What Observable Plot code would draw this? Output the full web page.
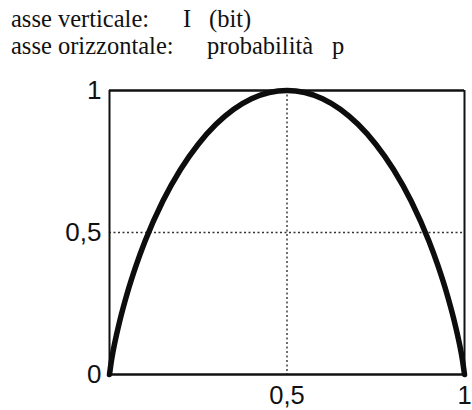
<!DOCTYPE html>
<html>
<head>
<meta charset="utf-8">
<script src="https://cdn.jsdelivr.net/npm/d3@7"></script>
<script src="https://cdn.jsdelivr.net/npm/@observablehq/plot@0.6"></script>
<style>
  html, body { margin: 0; padding: 0; background: #fff; }
  #wrap { width: 472px; height: 410px; overflow: hidden; }
  #head { position: relative; width: 472px; height: 62px; font-family: "Liberation Serif", "DejaVu Serif", serif; font-size: 24.5px; line-height: 24px; color: #111; }
  #head span { position: absolute; white-space: nowrap; }
  svg { display: block; }
</style>
</head>
<body>
<div id="wrap">
  <div id="head">
    <span style="left:11px; top:7px">asse verticale:</span>
    <span style="left:183px; top:7px">I</span>
    <span style="left:209px; top:7px">(bit)</span>
    <span style="left:11px; top:34px">asse orizzontale:</span>
    <span style="left:207px; top:34px">probabilità</span>
    <span style="left:332px; top:34px">p</span>
  </div>
  <div id="chart"></div>
</div>
<script>
// probability p (horizontal) and information I in bit (vertical)
const pValues = [0, 0.005, 0.01, 0.02, 0.03, 0.05, 0.075, 0.1, 0.15, 0.2, 0.25, 0.3, 0.35, 0.4, 0.45, 0.5,
                 0.55, 0.6, 0.65, 0.7, 0.75, 0.8, 0.85, 0.9, 0.925, 0.95, 0.97, 0.98, 0.99, 0.995, 1];
const iValues = [0, 0.045, 0.081, 0.141, 0.194, 0.286, 0.384, 0.469, 0.610, 0.722, 0.811, 0.881, 0.934, 0.971, 0.993, 1.0,
                 0.993, 0.971, 0.934, 0.881, 0.811, 0.722, 0.610, 0.469, 0.384, 0.286, 0.194, 0.141, 0.081, 0.045, 0];
const yTicks = [0, 0.5, 1];
const xTicks = [0.5, 1];
const tickLabels = {0: "0", 0.5: "0,5", 1: "1"};
const guideP = [0.5];
const guideI = [0.5];

const curve = pValues.map((p, i) => ({p, I: iValues[i]}));

const chart = Plot.plot({
  width: 472,
  height: 348,
  marginTop: 28,
  marginBottom: 36,
  marginLeft: 109,
  marginRight: 8,
  style: {background: "#fff", fontFamily: "'Liberation Sans', Arial, sans-serif", color: "#111"},
  x: {domain: [0, 1]},
  y: {domain: [0, 1]},
  marks: [
    Plot.ruleY(guideI, {stroke: "#333", strokeWidth: 1.4, strokeDasharray: "2,2.5"}),
    Plot.ruleX(guideP, {stroke: "#333", strokeWidth: 1.4, strokeDasharray: "2,2.5"}),
    Plot.ruleX([0, 1], {stroke: "#111", strokeWidth: 2}),
    Plot.ruleY([0, 1], {stroke: "#111", strokeWidth: 2.5}),
    Plot.line(curve, {x: "p", y: "I", stroke: "#0d0d0d", strokeWidth: 5.5, curve: "monotone-x"}),
    Plot.axisY({ticks: yTicks, tickSize: 0, tickPadding: 8, fontSize: 26, tickFormat: d => tickLabels[d], label: null}),
    Plot.axisX({ticks: xTicks, tickSize: 0, tickPadding: 11, fontSize: 25.5, tickFormat: d => tickLabels[d], label: null})
  ]
});
document.getElementById("chart").appendChild(chart);
</script>
</body>
</html>
